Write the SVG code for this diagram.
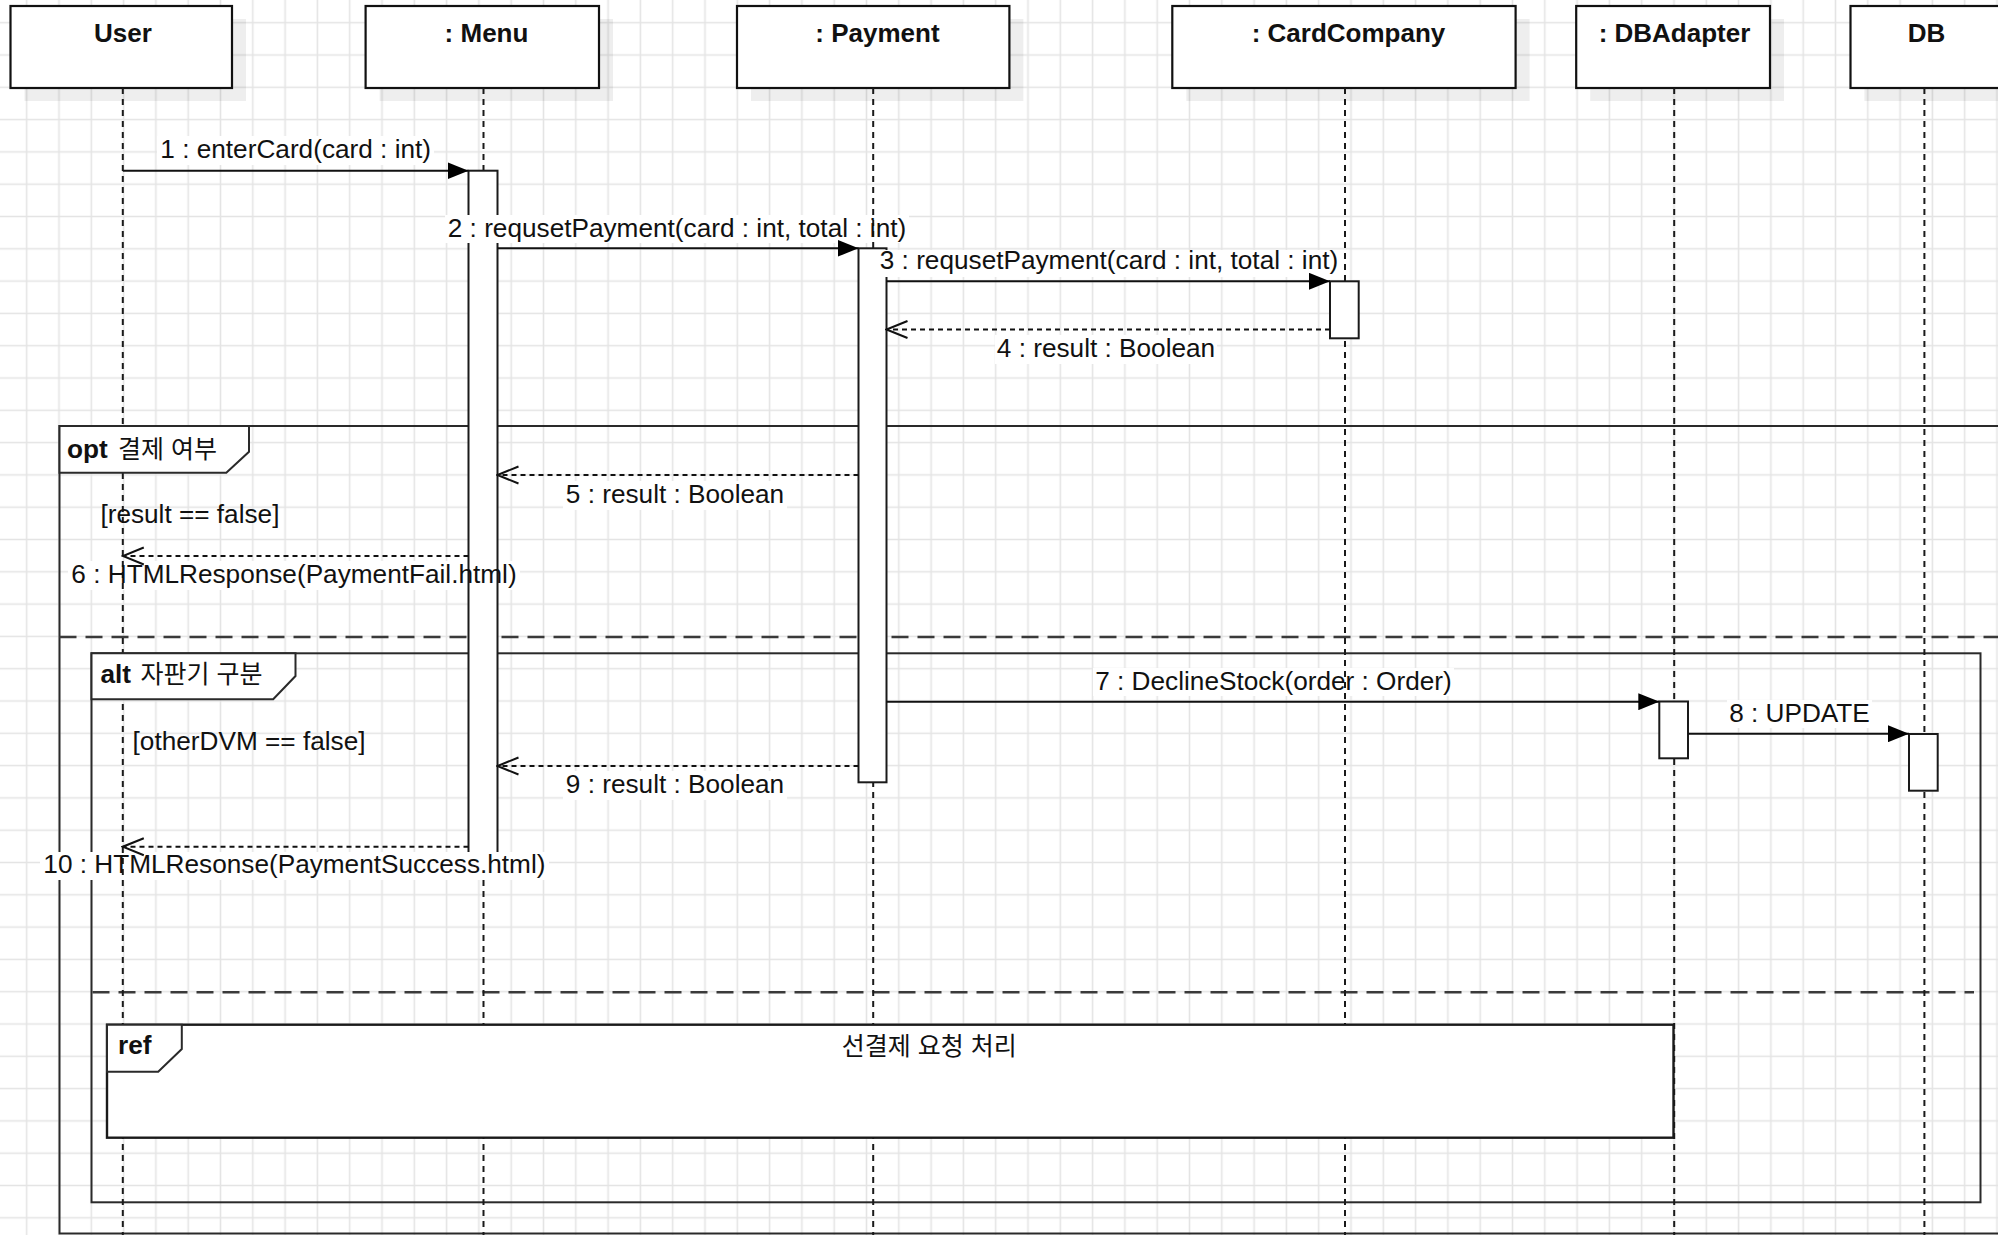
<svg xmlns="http://www.w3.org/2000/svg" width="1998" height="1235" viewBox="0 0 1998 1235">
<style>
  .box { fill: #ffffff; stroke: #111111; stroke-width: 2.2; }
  .shadow { fill: #000000; fill-opacity: 0.065; }
  .title { font-family: "Liberation Sans", Arial, sans-serif; font-size: 26px; font-weight: bold; fill: #111111; text-anchor: middle; }
  .life { stroke: #1a1a1a; stroke-width: 2; stroke-dasharray: 6 5; fill: none; }
  .act { fill: #ffffff; stroke: #1a1a1a; stroke-width: 2; }
  .msg { stroke: #111111; stroke-width: 2; fill: none; }
  .ret { stroke: #111111; stroke-width: 2; stroke-dasharray: 5 4; fill: none; }
  .frame { fill: none; stroke: #2a2a2a; stroke-width: 2; }
  .tab { fill: #ffffff; stroke: #2a2a2a; stroke-width: 2; }
  .sep { stroke: #3a3a3a; stroke-width: 2.5; stroke-dasharray: 17 9; fill: none; }
  .lbl { font-family: "Liberation Sans", Arial, sans-serif; font-size: 26.2px; fill: #111111; }
  .mid { text-anchor: middle; }
  .bold { font-weight: bold; }
  .kr { font-family: "Liberation Sans", "Noto Sans CJK KR", sans-serif; font-size: 25px; fill: #111111; }
  .bg { fill: #ffffff; }
</style>
<defs>
  <pattern id="grid" x="10.55" y="6.55" width="32.3" height="32.3" patternUnits="userSpaceOnUse">
    <path d="M16.15 0 V32.3 M0 16.15 H32.3" stroke="#e4e4e4" stroke-width="1.6" fill="none"/>
  </pattern>
  <marker id="filled" viewBox="0 0 21 17" refX="21" refY="8.5" markerWidth="21" markerHeight="17" markerUnits="userSpaceOnUse" orient="auto">
    <path d="M0 0 L21 8.5 L0 17 Z" fill="#000000"/>
  </marker>
  <marker id="open" viewBox="-2 -2 25 21" refX="21" refY="8.5" markerWidth="25" markerHeight="21" markerUnits="userSpaceOnUse" orient="auto">
    <path d="M0 0 L21 8.5 L0 17" fill="none" stroke="#111111" stroke-width="2"/>
  </marker>
</defs>

<rect x="0" y="0" width="1998" height="1235" fill="#ffffff"/>
<rect x="0" y="0" width="1998" height="1235" fill="url(#grid)"/>

<!-- frame outlines -->
<g id="frame-opt-outline">
  <rect class="frame" x="59.5" y="426" width="1950" height="807.5"/>
  <line class="sep" x1="59.5" y1="637" x2="1998" y2="637"/>
</g>
<g id="frame-alt-outline">
  <rect class="frame" x="91.5" y="653.3" width="1889" height="549"/>
  <line class="sep" x1="92.5" y1="992.3" x2="1974" y2="992.3"/>
</g>

<!-- label backgrounds -->
<g id="label-backgrounds">
  <rect class="bg" x="157" y="136" width="277" height="29"/>
  <rect class="bg" x="445" y="215" width="464" height="28"/>
  <rect class="bg" x="877" y="250" width="471" height="27"/>
  <rect class="bg" x="995" y="335" width="222" height="29"/>
  <rect class="bg" x="563" y="481" width="224" height="29"/>
  <rect class="bg" x="68" y="561" width="452" height="29"/>
  <rect class="bg" x="1093" y="668" width="361" height="28"/>
  <rect class="bg" x="1727" y="700" width="145" height="28"/>
  <rect class="bg" x="563" y="771" width="224" height="29"/>
  <rect class="bg" x="40" y="852" width="509" height="28"/>
</g>

<!-- participants -->
<g id="user">
  <rect class="shadow" x="24.5" y="19" width="221.5" height="82"/>
  <rect class="box" x="10.5" y="6" width="221.5" height="82"/>
  <text class="title" x="123" y="42">User</text>
  <line class="life" x1="122.8" y1="88" x2="122.8" y2="1235"/>
</g>
<g id="menu">
  <rect class="shadow" x="379.6" y="19" width="233.4" height="82"/>
  <rect class="box" x="365.6" y="6" width="233.4" height="82"/>
  <text class="title" x="486.5" y="42">: Menu</text>
  <line class="life" x1="483.5" y1="88" x2="483.5" y2="1235"/>
</g>
<g id="payment">
  <rect class="shadow" x="751" y="19" width="272.4" height="82"/>
  <rect class="box" x="737" y="6" width="272.4" height="82"/>
  <text class="title" x="877.5" y="42">: Payment</text>
  <line class="life" x1="873.2" y1="88" x2="873.2" y2="1235"/>
</g>
<g id="cardcompany">
  <rect class="shadow" x="1186.3" y="19" width="343.3" height="82"/>
  <rect class="box" x="1172.3" y="6" width="343.3" height="82"/>
  <text class="title" x="1348.5" y="42">: CardCompany</text>
  <line class="life" x1="1345" y1="88" x2="1345" y2="1235"/>
</g>
<g id="dbadapter">
  <rect class="shadow" x="1590.2" y="19" width="193.8" height="82"/>
  <rect class="box" x="1576.2" y="6" width="193.8" height="82"/>
  <text class="title" x="1674.5" y="42">: DBAdapter</text>
  <line class="life" x1="1674.2" y1="88" x2="1674.2" y2="1235"/>
</g>
<g id="db">
  <rect class="shadow" x="1864.4" y="19" width="148" height="82"/>
  <rect class="box" x="1850.5" y="6" width="149" height="82"/>
  <text class="title" x="1926.5" y="42">DB</text>
  <line class="life" x1="1924.4" y1="88" x2="1924.4" y2="1235"/>
</g>

<!-- frame tabs and ref -->
<g id="frame-opt">
  <path class="tab" d="M59.5 426 H249 V451.7 L226.3 472.7 H59.5 Z"/>
  <text class="lbl bold" x="67" y="458.3">opt</text>
  <text class="kr" x="118" y="458.3">결제 여부</text>
  <text class="lbl" x="100.4" y="523.3">[result == false]</text>
</g>
<g id="frame-alt">
  <path class="tab" d="M91.5 653.3 H295.5 V676 L273.2 699.3 H91.5 Z"/>
  <text class="lbl bold" x="100.4" y="683.3">alt</text>
  <text class="kr" x="140.6" y="683.3">자판기 구분</text>
  <text class="lbl" x="132.6" y="750">[otherDVM == false]</text>
</g>
<g id="frame-ref">
  <rect x="107" y="1024.7" width="1566.5" height="113" fill="#ffffff" stroke="#1a1a1a" stroke-width="2.4"/>
  <path class="tab" d="M107 1024.7 H181.8 V1049 L158.2 1071.7 H107 Z"/>
  <text class="lbl bold" x="118" y="1054">ref</text>
  <text class="kr" x="841.8" y="1055">선결제 요청 처리</text>
</g>

<!-- activation bars -->
<g id="activations">
  <rect class="act" x="468.5" y="170.7" width="29" height="685"/>
  <rect class="act" x="858.5" y="248.3" width="28" height="534"/>
  <rect class="act" x="1330" y="281.3" width="28.7" height="57"/>
  <rect class="act" x="1659.3" y="701.5" width="28.7" height="56.8"/>
  <rect class="act" x="1909" y="734" width="28.7" height="56.7"/>
</g>
<g id="label-backgrounds-top">
  <rect class="bg" x="445" y="215" width="58" height="28"/>
  <rect class="bg" x="877" y="250" width="14" height="27"/>
  <rect class="bg" x="466" y="852" width="34" height="28"/>
</g>

<!-- connectors -->
<g id="connectors">
  <line class="msg" x1="122.8" y1="170.7" x2="468.5" y2="170.7" marker-end="url(#filled)"/>
  <line class="msg" x1="497.5" y1="248.3" x2="858.5" y2="248.3" marker-end="url(#filled)"/>
  <line class="msg" x1="886.5" y1="281.3" x2="1330" y2="281.3" marker-end="url(#filled)"/>
  <line class="ret" x1="1330" y1="329.5" x2="886.5" y2="329.5" marker-end="url(#open)"/>
  <line class="ret" x1="858.5" y1="475" x2="497.5" y2="475" marker-end="url(#open)"/>
  <line class="ret" x1="468.5" y1="556" x2="122.8" y2="556" marker-end="url(#open)"/>
  <line class="msg" x1="886.5" y1="701.7" x2="1659.3" y2="701.7" marker-end="url(#filled)"/>
  <line class="msg" x1="1688" y1="733.7" x2="1909" y2="733.7" marker-end="url(#filled)"/>
  <line class="ret" x1="858.5" y1="766" x2="497.5" y2="766" marker-end="url(#open)"/>
  <line class="ret" x1="468.5" y1="846.7" x2="122.8" y2="846.7" marker-end="url(#open)"/>
</g>

<!-- message labels -->
<g id="labels">
  <text class="lbl mid" x="295.7" y="158">1 : enterCard(card : int)</text>
  <text class="lbl mid" x="677" y="236.7">2 : requsetPayment(card : int, total : int)</text>
  <text class="lbl mid" x="1109" y="269.3">3 : requsetPayment(card : int, total : int)</text>
  <text class="lbl mid" x="1106" y="357">4 : result : Boolean</text>
  <text class="lbl mid" x="675" y="503.3">5 : result : Boolean</text>
  <text class="lbl mid" x="294" y="583.3">6 : HTMLResponse(PaymentFail.html)</text>
  <text class="lbl mid" x="1273.5" y="690">7 : DeclineStock(order : Order)</text>
  <text class="lbl mid" x="1799.5" y="721.7">8 : UPDATE</text>
  <text class="lbl mid" x="675" y="793.3">9 : result : Boolean</text>
  <text class="lbl mid" x="294.4" y="873.3">10 : HTMLResonse(PaymentSuccess.html)</text>
</g>
</svg>
